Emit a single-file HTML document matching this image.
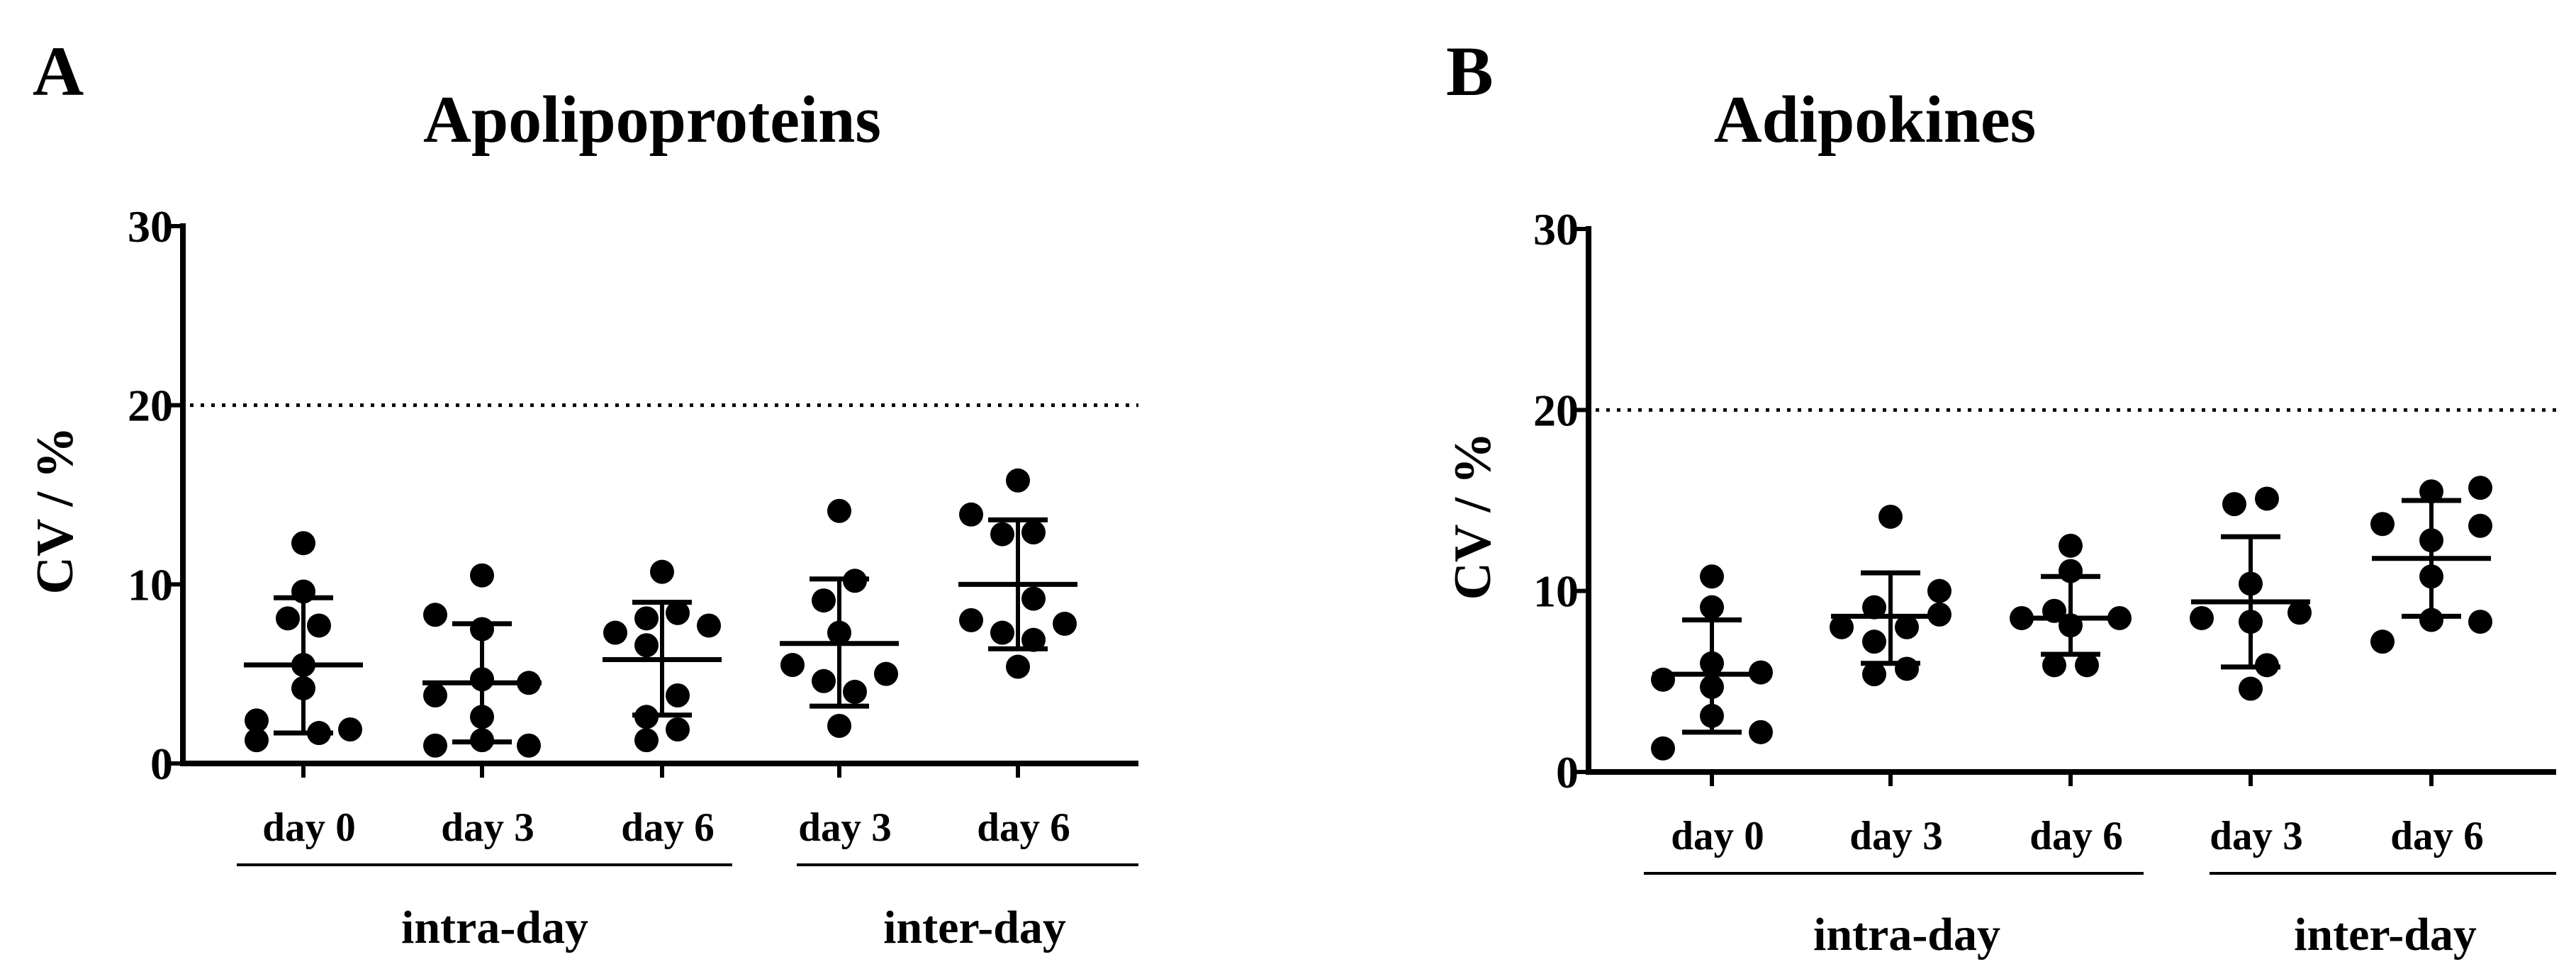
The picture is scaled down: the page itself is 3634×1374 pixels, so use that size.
<!DOCTYPE html>
<html><head><meta charset="utf-8"><style>
html,body{margin:0;padding:0;background:#fff;}
svg{display:block;font-family:"Liberation Serif",serif;font-weight:bold;}
</style></head><body>
<svg id="chart" width="3634" height="1374" viewBox="0 0 3634 1374" xmlns="http://www.w3.org/2000/svg">
<text x="46" y="134" font-size="100">A</text>
<text x="920" y="200" font-size="94" text-anchor="middle">Apolipoproteins</text>
<text x="2040" y="134" font-size="100">B</text>
<text x="2645" y="200" font-size="94" text-anchor="middle">Adipokines</text>
</svg>
<script>
const categories = ["day 0","day 3","day 6","day 3","day 6"];
const yTicks = [0,10,20,30];
const refLine = 20;
const groupLabels = ["intra-day","inter-day"];
// Panel A values
const aVals = [
 [12.3,9.6,8.1,7.7,5.5,4.2,2.4,1.3,1.7,1.9],
 [10.5,8.3,7.5,4.7,4.5,3.8,2.6,1.3,1.0,1.0],
 [10.7,8.1,8.4,7.7,7.3,6.6,3.8,2.6,1.9,1.3],
 [14.1,10.2,9.1,7.3,5.5,5.0,4.6,4.0,2.1],
 [15.8,13.9,12.9,12.8,9.2,8.0,7.8,7.3,6.9,5.4]
];
const aJit = [
 [0,0,-1,1,0,0,-3,-3,1,3],
 [0,-3,0,0,3,-3,0,0,-3,3],
 [0,-1,1,3,-3,-1,1,-1,1,-1],
 [0,1,-1,0,-3,3,-1,1,0],
 [0,-3,1,-1,1,-3,3,-1,1,0]
];
const aMean = [5.5,4.5,5.8,6.7,10.0];
const aHi = [9.25,7.8,9.0,10.3,13.6];
const aLo = [1.7,1.2,2.7,3.2,6.4];
// Panel B values
const bVals = [
 [10.8,9.1,6.0,5.1,5.5,4.7,3.1,2.2,1.3],
 [14.1,10.0,9.1,8.7,8.0,8.0,7.2,5.7,5.4],
 [12.5,11.1,8.5,8.9,8.5,8.1,5.9,5.9],
 [14.8,15.1,10.4,8.5,8.8,8.3,5.9,4.6],
 [15.5,15.7,13.7,13.6,12.8,10.8,7.2,8.4,8.3]
];
const bJit = [
 [0,0,0,-3,3,0,0,3,-3],
 [0,3,-1,3,-3,1,-1,1,-1],
 [0,0,-3,-1,3,0,-1,1],
 [-1,1,0,-3,3,0,1,0],
 [0,3,-3,3,0,0,-3,0,3]
];
const bMean = [5.4,8.6,8.5,9.4,11.8];
const bHi = [8.4,11.0,10.8,13.0,15.0];
const bLo = [2.2,6.0,6.5,5.8,8.6];

const NS="http://www.w3.org/2000/svg";
const svg=document.getElementById('chart');
function mk(tag,attrs,parent){const e=document.createElementNS(NS,tag);for(const k in attrs)e.setAttribute(k,attrs[k]);(parent||svg).appendChild(e);return e;}

function panel(p){
 const g=mk('g',{});
 
 
 const y=v=>p.y0-(p.y0-p.y30)*v/30;
 const x=i=>p.cx[i];
 const ya=mk('line',{x1:p.ax,y1:p.y30-4,x2:p.ax,y2:p.y0+4,stroke:'#000','stroke-width':8},g);
 
 
 const xa=mk('line',{x1:p.ax-4,y1:p.y0,x2:p.xend,y2:p.y0,stroke:'#000','stroke-width':8},g);
 
 
 yTicks.forEach(t=>{
  mk('line',{x1:p.ax-18,y1:y(t),x2:p.ax,y2:y(t),stroke:'#000','stroke-width':6},g);
  const tl=mk('text',{x:p.ax-14,y:y(t)+22,'font-size':64,'text-anchor':'end'},g);
  tl.textContent=t;
  
  
 });
 const yl=mk('text',{x:0,y:0,'font-size':74,'text-anchor':'middle',transform:`translate(${p.ylx},${(p.y0+p.y30)/2+22}) rotate(-90)`},g);
 yl.textContent='CV / %';
 
 
 const rl=mk('line',{x1:p.ax+10,y1:y(refLine),x2:p.xend,y2:y(refLine),stroke:'#000','stroke-width':5,'stroke-dasharray':'5 10'},g);
 
 
 categories.forEach((c,i)=>{
  mk('line',{x1:x(i),y1:p.y0,x2:x(i),y2:p.y0+20,stroke:'#000','stroke-width':6},g);
  const t=mk('text',{x:x(i)+8,y:p.dayY,'font-size':57,'text-anchor':'middle'},g);
  t.textContent=c;
  
  
  p.vals[i].forEach((v,j)=>{
   const d=mk('circle',{cx:x(i)+p.jit[i][j]*p.js,cy:y(v),r:17,fill:'#000'},g);
   
   
  });
  const st={stroke:'#000','stroke-width':7};
  const m=mk('line',Object.assign({x1:x(i)-84,x2:x(i)+84,y1:y(p.mean[i]),y2:y(p.mean[i])},st),g);
  
  
  const eb=mk('line',Object.assign({x1:x(i),x2:x(i),y1:y(p.hi[i]),y2:y(p.lo[i])},{stroke:'#000','stroke-width':6}),g);
  
  
  mk('line',Object.assign({x1:x(i)-42,x2:x(i)+42,y1:y(p.hi[i]),y2:y(p.hi[i])},st),g);
  mk('line',Object.assign({x1:x(i)-42,x2:x(i)+42,y1:y(p.lo[i]),y2:y(p.lo[i])},st),g);
 });
 p.groups.forEach((gr,k)=>{
  const ln=mk('line',{x1:gr[0],x2:gr[1],y1:p.lineY,y2:p.lineY,stroke:'#000','stroke-width':4},g);
  
  
  const t=mk('text',{x:gr[2],y:p.grpY,'font-size':66,'text-anchor':'middle'},g);
  t.textContent=groupLabels[k];
  
  
 });
}
panel({name:'panel-a-apolipoproteins',ax:258,xend:1606,y0:1077,y30:319,cx:[428,680,934,1184,1436],ylx:102,
 vals:aVals,jit:aJit,js:22,mean:aMean,hi:aHi,lo:aLo,dayY:1186,lineY:1220,grpY:1330,
 groups:[[334,1033,698],[1124,1606,1375]]});
panel({name:'panel-b-adipokines',ax:2241,xend:3606,y0:1089,y30:323,cx:[2415,2667,2921,3175,3430],ylx:2102,
 vals:bVals,jit:bJit,js:23,mean:bMean,hi:bHi,lo:bLo,dayY:1198,lineY:1232,grpY:1340,
 groups:[[2319,3024,2690],[3117,3606,3365]]});
</script>
</body></html>
